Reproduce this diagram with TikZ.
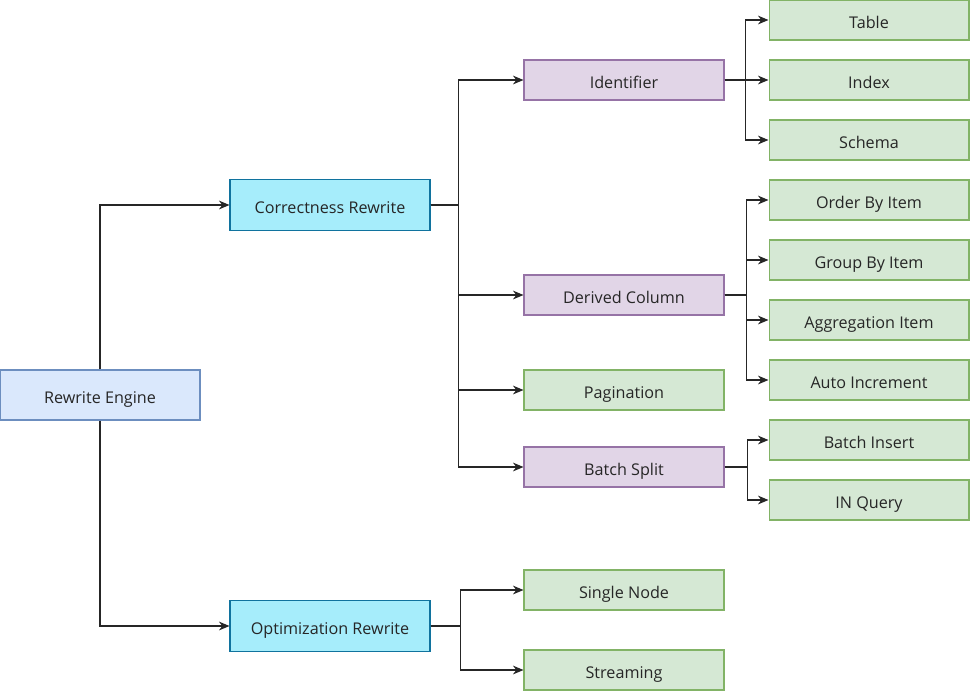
\documentclass[tikz,border=0pt]{standalone}
\usepackage{fontspec}
\setmainfont{Open Sans}
\usepackage{tikz}
\usetikzlibrary{arrows.meta}
\usetikzlibrary{calc}
\definecolor{engfill}{RGB}{218,232,252}
\definecolor{engline}{RGB}{108,142,191}
\definecolor{rwfill}{RGB}{166,237,251}
\definecolor{rwline}{RGB}{16,115,158}
\definecolor{pfill}{RGB}{225,213,231}
\definecolor{pline}{RGB}{150,115,166}
\definecolor{gfill}{RGB}{213,232,212}
\definecolor{gline}{RGB}{130,179,102}

\begin{document}
\begin{tikzpicture}[x=0.02cm, y=-0.02cm,
    every node/.style={font=\fontsize{9.2}{11}\selectfont, text=black!85},
    box/.style={draw, line width=0.6pt, minimum width=4cm, minimum height=0.8cm, inner sep=0, text height=2.1ex, text depth=0.3ex},
    engine/.style={box, fill=engfill, draw=engline, minimum height=1cm},
    rewrite/.style={box, fill=rwfill, draw=rwline, minimum height=1.02cm},
    group/.style={box, fill=pfill, draw=pline},
    leaf/.style={box, fill=gfill, draw=gline},
    conn/.style={draw=black!85, line width=0.7pt, -{Stealth[length=6pt, width=5pt]}}]
    \useasboundingbox (0,0) rectangle (970,691);
    % first levels
    \node[engine] (engine) at (100,395) {Rewrite Engine};
    \node[rewrite] (corr) at (330,205) {Correctness Rewrite};
    \node[rewrite] (opt) at (330,626) {Optimization Rewrite};
    % correctness rewrite
    \node[group] (ident) at (624,80) {Identifier};
    \node[group] (derived) at (624,295) {Derived Column};
    \node[leaf] (page) at (624,390) {Pagination};
    \node[group] (split) at (624,467) {Batch Split};
    % optimization rewrite
    \node[leaf] (single) at (624,590) {Single Node};
    \node[leaf] (stream) at (624,670) {Streaming};
    % leaves
    \node[leaf] (table) at (869,20) {Table};
    \node[leaf] (index) at (869,80) {Index};
    \node[leaf] (schema) at (869,140) {Schema};
    \node[leaf] (order) at (869,200) {Order By Item};
    \node[leaf] (groupby) at (869,260) {Group By Item};
    \node[leaf] (agg) at (869,320) {Aggregation Item};
    \node[leaf] (autoinc) at (869,380) {Auto Increment};
    \node[leaf] (insert) at (869,440) {Batch Insert};
    \node[leaf] (inquery) at (869,500) {IN Query};

    \draw[conn] (engine.north) |- (corr.west);
    \draw[conn] (engine.south) |- (opt.west);
    \draw[conn] (corr.east) -- ++(28,0) |- (ident.west);
    \draw[conn] (corr.east) -- ++(28,0) |- (derived.west);
    \draw[conn] (corr.east) -- ++(28,0) |- (page.west);
    \draw[conn] (corr.east) -- ++(28,0) |- (split.west);
    \draw[conn] (opt.east) -- ++(30,0) |- (single.west);
    \draw[conn] (opt.east) -- ++(30,0) |- (stream.west);
    \draw[conn] (ident.east) -- ++(21,0) |- (table.west);
    \draw[conn] (ident.east) -- ++(21,0) |- (index.west);
    \draw[conn] (ident.east) -- ++(21,0) |- (schema.west);
    \draw[conn] (derived.east) -- ++(22,0) |- (order.west);
    \draw[conn] (derived.east) -- ++(22,0) |- (groupby.west);
    \draw[conn] (derived.east) -- ++(22,0) |- (agg.west);
    \draw[conn] (derived.east) -- ++(22,0) |- (autoinc.west);
    \draw[conn] (split.east) -- ++(23,0) |- (insert.west);
    \draw[conn] (split.east) -- ++(23,0) |- (inquery.west);
\end{tikzpicture}
\end{document}
